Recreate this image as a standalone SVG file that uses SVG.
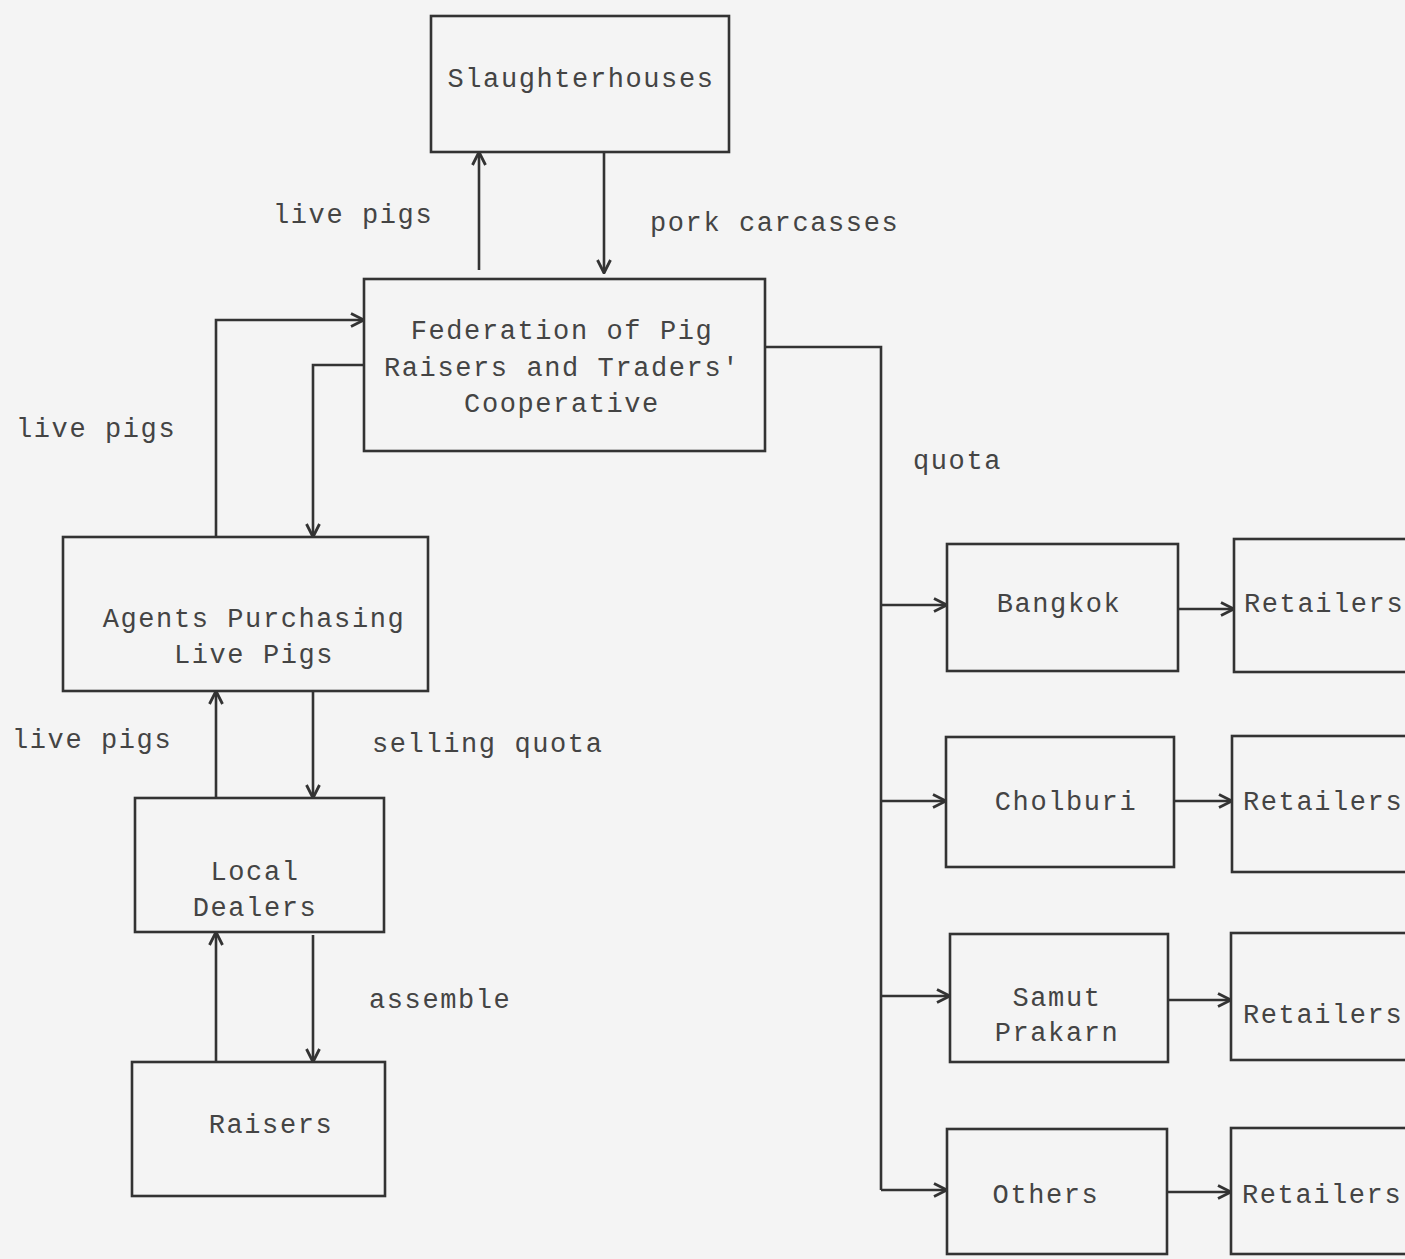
<svg xmlns="http://www.w3.org/2000/svg" width="1405" height="1259" viewBox="0 0 1405 1259">
<style>
.box{fill:none;stroke:#333;stroke-width:2.6}
.ln{fill:none;stroke:#333;stroke-width:2.6}
text{font-family:"Liberation Mono","DejaVu Sans Mono",monospace;font-size:27px;letter-spacing:1.6px;fill:#444}
.c{text-anchor:middle}
</style>
<defs>
<marker id="ah" viewBox="0 0 16 16" refX="15" refY="8" markerWidth="16" markerHeight="16" markerUnits="userSpaceOnUse" orient="auto">
<path d="M2,1.5 L15,8 L2,14.5" fill="none" stroke="#333" stroke-width="2.8"/>
</marker>
</defs>
<rect width="1405" height="1259" fill="#f4f4f4"/>
<g id="connectors">
<path class="ln" d="M479,270 V152" marker-end="url(#ah)"/>
<path class="ln" d="M604,152 V273" marker-end="url(#ah)"/>
<path class="ln" d="M216,537 V320 H364" marker-end="url(#ah)"/>
<path class="ln" d="M364,365 H313 V537" marker-end="url(#ah)"/>
<path class="ln" d="M216,798 V691" marker-end="url(#ah)"/>
<path class="ln" d="M313,691 V798" marker-end="url(#ah)"/>
<path class="ln" d="M216,1062 V932" marker-end="url(#ah)"/>
<path class="ln" d="M313,935 V1062" marker-end="url(#ah)"/>
<path class="ln" d="M766,347 H881 V1190"/>
<path class="ln" d="M881,605 H947" marker-end="url(#ah)"/>
<path class="ln" d="M881,801 H946" marker-end="url(#ah)"/>
<path class="ln" d="M881,996 H950" marker-end="url(#ah)"/>
<path class="ln" d="M881,1190 H947" marker-end="url(#ah)"/>
<path class="ln" d="M1178,609 H1234" marker-end="url(#ah)"/>
<path class="ln" d="M1174,801 H1232" marker-end="url(#ah)"/>
<path class="ln" d="M1168,1000 H1231" marker-end="url(#ah)"/>
<path class="ln" d="M1167,1192 H1231" marker-end="url(#ah)"/>
<text x="273" y="223">live pigs</text>
<text x="650" y="231">pork carcasses</text>
<text x="16" y="437">live pigs</text>
<text x="913" y="469">quota</text>
<text x="12" y="748">live pigs</text>
<text x="372" y="752">selling quota</text>
<text x="369" y="1008">assemble</text>
</g>
<g id="slaughterhouses">
<rect class="box" x="431" y="16" width="298" height="136"/>
<text class="c" x="581" y="87">Slaughterhouses</text>
</g>
<g id="federation">
<rect class="box" x="364" y="279" width="401" height="172"/>
<text class="c" x="562" y="339">Federation of Pig</text>
<text class="c" x="562" y="376">Raisers and Traders'</text>
<text class="c" x="562" y="412">Cooperative</text>
</g>
<g id="agents">
<rect class="box" x="63" y="537" width="365" height="154"/>
<text class="c" x="254" y="627">Agents Purchasing</text>
<text class="c" x="254" y="663">Live Pigs</text>
</g>
<g id="local-dealers">
<rect class="box" x="135" y="798" width="249" height="134"/>
<text class="c" x="255" y="880">Local</text>
<text class="c" x="255" y="916">Dealers</text>
</g>
<g id="raisers">
<rect class="box" x="132" y="1062" width="253" height="134"/>
<text class="c" x="271" y="1133">Raisers</text>
</g>
<g id="bangkok">
<rect class="box" x="947" y="544" width="231" height="127"/>
<text class="c" x="1059" y="612">Bangkok</text>
</g>
<g id="retailers-1">
<rect class="box" x="1234" y="539" width="190" height="133"/>
<text x="1244" y="612">Retailers</text>
</g>
<g id="cholburi">
<rect class="box" x="946" y="737" width="228" height="130"/>
<text class="c" x="1066" y="810">Cholburi</text>
</g>
<g id="retailers-2">
<rect class="box" x="1232" y="736" width="190" height="136"/>
<text x="1243" y="810">Retailers</text>
</g>
<g id="samut-prakarn">
<rect class="box" x="950" y="934" width="218" height="128"/>
<text class="c" x="1057" y="1006">Samut</text>
<text class="c" x="1057" y="1041">Prakarn</text>
</g>
<g id="retailers-3">
<rect class="box" x="1231" y="933" width="190" height="127"/>
<text x="1243" y="1023">Retailers</text>
</g>
<g id="others">
<rect class="box" x="947" y="1129" width="220" height="125"/>
<text class="c" x="1046" y="1203">Others</text>
</g>
<g id="retailers-4">
<rect class="box" x="1231" y="1128" width="190" height="126"/>
<text x="1242" y="1203">Retailers</text>
</g>
</svg>
